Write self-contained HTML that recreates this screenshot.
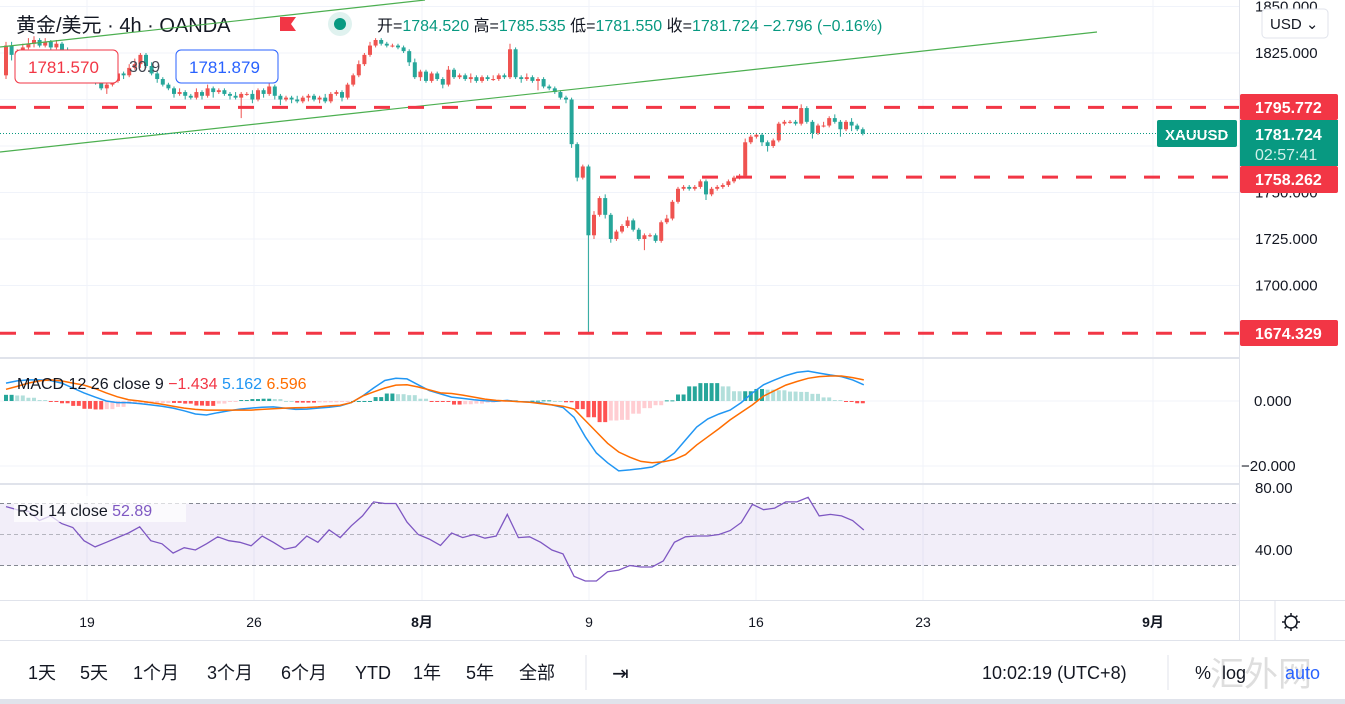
<!DOCTYPE html>
<html><head><meta charset="utf-8">
<style>
body{margin:0;width:1345px;height:704px;overflow:hidden;background:#fff;font-family:"Liberation Sans","Noto Sans CJK SC",sans-serif;}
svg{position:absolute;left:0;top:0}
text{font-family:"Liberation Sans","Noto Sans CJK SC",sans-serif}
</style></head>
<body>
<svg id="c" width="1345" height="704" viewBox="0 0 1345 704">
<rect x="0" y="0" width="1345" height="704" fill="#fff"/>
<g id="grid"></g>
<g id="bands"></g>
<g id="lines"></g>
<g id="candles"></g>
<g id="macd"></g>
<g id="rsi"></g>
<g id="overlay"></g>
</svg>
<script>
const closes=[1829,1824,1826,1828,1830,1832,1829,1831,1828,1830,
1826,1822,1820,1818,1815,1812,1809,1806,1808,1810,
1814,1813,1817,1819,1824,1818,1814,1811,1808,1806,
1803,1804,1802,1801,1804,1802,1806,1804,1805,1803,
1802,1801,1803,1803,1800,1805,1803,1807,1802,1800,
1801,1800,1799,1801,1802,1800,1801,1799,1803,1804,
1801,1808,1813,1819,1824,1829,1832,1830,1829,1829,
1828,1826,1820,1812,1815,1810,1814,1811,1808,1816,
1812,1813,1811,1812,1810,1812,1811,1811,1813,1812,
1827,1812,1811,1812,1810,1811,1807,1806,1804,1801,
1800,1776,1758,1764,1727,1738,1747,1738,1725,1729,
1732,1735,1730,1725,1727,1727,1724,1734,1736,1745,
1752,1753,1752,1753,1756,1749,1752,1753,1754,1756,
1758,1759,1777,1780,1781,1777,1775,1778,1787,1788,
1788,1787,1795.4,1788,1782,1786,1786,1790,1788,1784,
1788,1786,1784,1781.7];
const firstOpen=1813;
const upWick=[2,2,1,2,3,2,1,2,1,2, 1,2,1,1,2,1,2,1,1,2, 1,1,2,3,1,1,2,1,1,1, 1,2,1,1,2,1,2,1,1,1, 1,2,1,1,2,1,1,2,1,1, 1,1,2,1,1,1,1,2,1,1, 1,1,1,2,1,2,1,1,1,1, 1,1,1,2,1,1,1,1,1,2, 1,1,1,2,1,1,1,2,1,1, 3,1,1,2,1,1,1,1,1,1, 1,1,1,1,1,2,1,2,1,1, 1,2,1,1,1,1,1,1,2,1, 1,1,1,1,1,1,1,1,1,1, 1,1,2,1,1,1,1,1,1,1, 1,1,2,1,1,1,2,1,2,1, 1,2,1,1];
const downWick=[2,3,1,2,1,2,1,1,2,1, 2,1,2,1,1,2,1,1,3,1, 1,2,1,1,2,1,1,2,1,1, 2,1,2,1,1,2,1,3,1,1, 2,1,11,1,2,1,2,1,2,3, 1,2,1,1,2,1,2,1,1,1, 2,1,1,1,1,1,1,1,1,1, 1,1,2,1,2,1,1,1,2,1, 1,1,1,2,1,1,1,1,1,1, 1,1,2,1,1,5,1,1,1,1, 2,2,2,1,53,2,1,2,2,1, 1,1,1,1,6,1,1,1,1,1, 1,1,1,1,1,3,1,1,1,1, 1,1,1,1,1,2,3,1,1,1, 1,1,1,1,3,1,1,1,1,4, 1,3,1,1];
const macdVals=[5.5,6.2,6.5,6.5,6.3,5.5,4,2.5,1.2,0,
-0.5,-0.5,-0.8,-1.2,-1.6,-2.2,-3,-4,-4.3,-3.6,
-3,-2.5,-2.2,-1.9,-1.8,-2.2,-2.6,-2.5,-2.2,-1.9,
-1.5,-0.5,1.5,4,6.3,7,6.8,5,3.2,2.2,
1.2,0.8,0.4,0.1,-0.1,0.2,-0.2,-0.3,-0.6,-1.2,
-2,-5,-11,-16,-19,-21.5,-21.2,-20.8,-20.3,-18.5,
-16,-12,-8,-5.5,-4,-2.8,-0.5,2.5,5,6.5,
7.8,8.8,9.2,8.6,8,7.5,6.5,5];
const signalVals=[3.6,4.5,5.5,6.2,6.5,6.2,5.5,4.9,3.8,2.5,
1.3,0.4,0,-0.5,-1,-1.6,-2.2,-2.6,-2.8,-2.8,
-2.8,-2.8,-2.8,-2.6,-2.4,-2.2,-2.1,-2,-1.8,-1.5,
-1.3,-0.5,1.5,2.8,4,4.9,5,4.3,3.4,2.5,
2.3,1.8,1.2,0.6,0.2,0,-0.2,-0.4,-0.8,-1.2,
-1.6,-2.5,-6,-9.5,-13,-15.7,-17.3,-18.6,-19,-18.7,
-18,-16.5,-13.5,-11,-8.5,-5.8,-3.5,-1.2,1.5,3.2,
4.9,6,7,7.5,7.7,7.7,7.2,6.5];
const rsiVals=[68,66,65,59,62,57,54.5,46,42,45,
48,51,55,46,44,38,41.5,40,44,48.5,
46,45,42.7,49,45,40.5,42,49,45,53,
48,55.6,62,71,70,70,58,50,47,43,
51,48,50,47.6,49,63,48,48.5,45,40,
37.5,23,20,20,26,27,30,29,29,33,
45,48.5,49,49,50,52.5,57.7,69.5,66,67,
71,71,74,62,63,62,59,52.9];
const priceTicks=[1850,1825,1800,1775,1750,1725,1700];
const macdTicks=[0,-20];
const rsiTicks=[80,40];
const timeLabels=["19","26","8月","9","16","23","9月"];
const timeLabelX=[87,254,422,589,756,923,1153];

const NS="http://www.w3.org/2000/svg";
function mk(tag,attrs,parent){const e=document.createElementNS(NS,tag);for(const k in attrs)e.setAttribute(k,attrs[k]);parent.appendChild(e);return e;}
const py=p=>53+(1825-p)*1.86;
const cx=i=>6+i*5.6;
const sx=k=>6+k*11.14;
const my=v=>401-v*3.25;
const ry=v=>488+(80-v)*1.55;
const G=id=>document.getElementById(id);

// grid
const grid=G('grid');
timeLabelX.forEach(x=>{const l=mk('line',{x1:x,x2:x,y1:0,y2:600,stroke:'#f0f3fa','stroke-width':1},grid);

});
priceTicks.forEach(p=>{const l=mk('line',{x1:0,x2:1239,y1:py(p),y2:py(p),stroke:'#f0f3fa'},grid);

});
[0,-20].forEach(v=>{mk('line',{x1:0,x2:1239,y1:my(v),y2:my(v),stroke:'#f0f3fa'},grid);});

// rsi band
const bands=G('bands');
const band=mk('rect',{x:0,y:ry(70),width:1239,height:ry(30)-ry(70),fill:'#7e57c2','fill-opacity':0.1},bands);


[70,50,30].forEach(v=>{const l=mk('line',{x1:0,x2:1239,y1:ry(v),y2:ry(v),stroke:'#787b86','stroke-dasharray':'4 3','stroke-width':1,'stroke-opacity':v==50?0.5:0.9},bands);

});

// trend lines & levels
const lines=G('lines');
const t1=mk('line',{x1:0,y1:152,x2:1097,y2:32,stroke:'#4caf50','stroke-width':1.2},lines);


const t2=mk('line',{x1:0,y1:47,x2:425,y2:0,stroke:'#4caf50','stroke-width':1.2},lines);


const cur=mk('line',{x1:0,x2:1239,y1:py(1781.724),y2:py(1781.724),stroke:'#089981','stroke-dasharray':'1 2','stroke-width':1},lines);



// candles
const cg=G('candles');
closes.forEach((c,i)=>{
 const o=i===0?firstOpen:closes[i-1];
 const up=c>=o;const col=up?'#ef5350':'#26a69a';
 const hi=Math.max(o,c)+upWick[i], lo=Math.min(o,c)-downWick[i];
 const x=cx(i);
 const w=mk('line',{x1:x,x2:x,y1:py(hi),y2:py(lo),stroke:col,'stroke-width':1},cg);
 
 
 const top=py(Math.max(o,c)),bot=py(Math.min(o,c));
 const b=mk('rect',{x:x-2,y:top,width:4,height:Math.max(1,bot-top),fill:col},cg);
 
 
});

// level lines (drawn above candles)
[[1795.772,0],[1758.262,600],[1674.329,0]].forEach(([p,x0])=>{
 const l=mk('line',{x1:x0,x2:1239,y1:py(p),y2:py(p),stroke:'#f23645','stroke-width':3,'stroke-dasharray':'16 18'},lines);
 
 
});
lines.parentNode.appendChild(lines);

// MACD
const mg=G('macd');
for(let i=0;i<closes.length;i++){
 const k=Math.min(macdVals.length-1,Math.floor(i/2));
 const h=macdVals[k]-signalVals[k];
 const hp=k>0?macdVals[k-1]-signalVals[k-1]:h;
 let col;
 if(h>=0)col=h>=hp?'#26a69a':'#b2dfdb';else col=h<=hp?'#ff5252':'#ffcdd2';
 const y0=my(0),y1=my(h);
 const r=mk('rect',{x:cx(i)-2,y:Math.min(y0,y1),width:4,height:Math.max(1,Math.abs(y1-y0)),fill:col},mg);
 
 
}
const path=(arr,fx,fy)=>arr.map((v,k)=>(k?'L':'M')+fx(k).toFixed(1)+' '+fy(v).toFixed(1)).join(' ');
const ml=mk('path',{d:path(macdVals,sx,my),fill:'none',stroke:'#2196f3','stroke-width':1.5},mg);


const sl=mk('path',{d:path(signalVals,sx,my),fill:'none',stroke:'#ff6d00','stroke-width':1.5},mg);



// RSI
const rg=G('rsi');
const rl=mk('path',{d:path(rsiVals,sx,ry),fill:'none',stroke:'#7e57c2','stroke-width':1.3},rg);



// overlay: separators, axes, labels
const ov=G('overlay');
function txt(s,x,y,attrs,name,inter){const t=mk('text',Object.assign({x:x,y:y,'font-size':15,fill:'#131722'},attrs||{}),ov);t.textContent=s;

return t;}
[[358],[484]].forEach(([y])=>{const l=mk('line',{x1:0,x2:1345,y1:y,y2:y,stroke:'#e0e3eb','stroke-width':2},ov);

});
mk('rect',{x:1240,y:0,width:105,height:640,fill:'#fff'},ov);
const ax=mk('line',{x1:1239.5,x2:1239.5,y1:0,y2:640,stroke:'#e0e3eb','stroke-width':1},ov);


mk('line',{x1:0,x2:1345,y1:600.5,y2:600.5,stroke:'#e0e3eb'},ov);
mk('line',{x1:0,x2:1345,y1:640.5,y2:640.5,stroke:'#e0e3eb'},ov);
priceTicks.forEach(p=>{txt(p.toFixed(3),1255,py(p)+5,{},'price-tick-label');});
macdTicks.forEach(v=>{txt((v<0?'−':'')+Math.abs(v).toFixed(3),v<0?1241:1254,my(v)+5,{},'macd-tick-label');});
rsiTicks.forEach(v=>{txt(v.toFixed(2),1255,ry(v)+5,{},'rsi-tick-label');});
timeLabels.forEach((s,i)=>{txt(s,timeLabelX[i],627,{'text-anchor':'middle','font-size':14,'font-weight':s.includes('月')?'bold':'normal'},'time-axis-label');});
// USD button
const ub=mk('rect',{x:1262,y:9,width:66,height:29,rx:4,fill:'#fff',stroke:'#e0e3eb'},ov);


txt('USD ⌄',1270,29,{'font-size':15},'currency-button-label',true);
// price tags
function tag(p,y,h,col,s,name){const r=mk('rect',{x:1240,y:y,width:98,height:h,rx:2,fill:col},ov);


txt(s,1255,y+19,{fill:'#fff','font-size':16,'font-weight':'bold'},name+'-text');}
tag(1795.772,94,26,'#f23645','1795.772','level-tag-1795');
const ct=mk('rect',{x:1240,y:120,width:98,height:46,fill:'#089981'},ov);


txt('1781.724',1255,140,{fill:'#fff','font-size':16,'font-weight':'bold'},'current-price-text');
txt('02:57:41',1255,160,{fill:'#d1f0ea','font-size':16},'countdown-text');
tag(1758.262,166,27,'#f23645','1758.262','level-tag-1758');
tag(1674.329,320,26,'#f23645','1674.329','level-tag-1674');
const xt=mk('rect',{x:1157,y:120,width:80,height:27,rx:2,fill:'#089981'},ov);


txt('XAUUSD',1165,140,{fill:'#fff','font-size':15,'font-weight':'bold'},'symbol-tag-text');
// gear
const gear=mk('g',{},ov);


mk('circle',{cx:1291,cy:622,r:6,fill:'none',stroke:'#131722','stroke-width':1.5},gear);
for(let a=0;a<8;a++){const an=a*Math.PI/4;mk('line',{x1:1291+Math.cos(an)*6,y1:622+Math.sin(an)*6,x2:1291+Math.cos(an)*9,y2:622+Math.sin(an)*9,stroke:'#131722','stroke-width':1.5},gear);}
mk('line',{x1:1275,x2:1275,y1:600,y2:640,stroke:'#e0e3eb'},ov);

// header legend
txt('黄金/美元 · 4h · OANDA',16,32,{'font-size':20,fill:'#131722'},'symbol-title');
const flag=mk('path',{d:'M280 17 H296 L291 24 L296 31 H280 Z',fill:'#f23645'},ov);


mk('circle',{cx:340,cy:24,r:12,fill:'#e0f2ef'},ov);
const dot=mk('circle',{cx:340,cy:24,r:6,fill:'#089981'},ov);


const ohlc=mk('text',{x:377,y:31,'font-size':16,fill:'#089981'},ov);


ohlc.innerHTML='<tspan fill="#131722">开=</tspan>1784.520 <tspan fill="#131722">高=</tspan>1785.535 <tspan fill="#131722">低=</tspan>1781.550 <tspan fill="#131722">收=</tspan>1781.724 −2.796 (−0.16%)';
const sb=mk('rect',{x:15,y:50,width:103,height:33,rx:5,fill:'#fff',stroke:'#f23645'},ov);


txt('1781.570',28,73,{'font-size':17,fill:'#f23645'},'sell-price');
txt('30.9',129,72,{'font-size':16,fill:'#434651'},'spread-value');
const bb=mk('rect',{x:176,y:50,width:102,height:33,rx:5,fill:'#fff',stroke:'#2962ff'},ov);


txt('1781.879',189,73,{'font-size':17,fill:'#2962ff'},'buy-price');
// MACD legend
const mlg=mk('text',{x:17,y:389,'font-size':16,fill:'#131722'},ov);


mlg.innerHTML='MACD 12 26 close 9 <tspan fill="#f23645">−1.434</tspan> <tspan fill="#2196f3">5.162</tspan> <tspan fill="#ff6d00">6.596</tspan>';
mk('rect',{x:14,y:496,width:172,height:26,fill:'#fff','fill-opacity':0.7},ov);
const rlg=mk('text',{x:17,y:516,'font-size':16,fill:'#131722'},ov);


rlg.innerHTML='RSI 14 close <tspan fill="#7e57c2">52.89</tspan>';

// bottom toolbar
[['1天',28],['5天',80],['1个月',133],['3个月',207],['6个月',281],['YTD',355],['1年',413],['5年',466],['全部',519]].forEach(([s,x])=>{txt(s,x,679,{'font-size':18},'range-button-'+s,true);});
mk('line',{x1:586,x2:586,y1:655,y2:690,stroke:'#e0e3eb'},ov);
const gi=mk('text',{x:612,y:680,'font-size':20,fill:'#131722'},ov);gi.textContent='⇥';


txt('10:02:19 (UTC+8)',982,679,{'font-size':18},'clock-label');
mk('line',{x1:1168,x2:1168,y1:655,y2:690,stroke:'#e0e3eb'},ov);
txt('%',1195,679,{'font-size':18},'percent-toggle',true);
txt('汇外网',1210,686,{'font-size':34,fill:'#c8c8c8','fill-opacity':0.6},'watermark');
txt('log',1222,679,{'font-size':18},'log-toggle',true);
txt('auto',1285,679,{'font-size':18,fill:'#2962ff'},'auto-toggle',true);
mk('rect',{x:0,y:699,width:1345,height:5,fill:'#e0e3eb'},ov);
</script>
</body></html>
